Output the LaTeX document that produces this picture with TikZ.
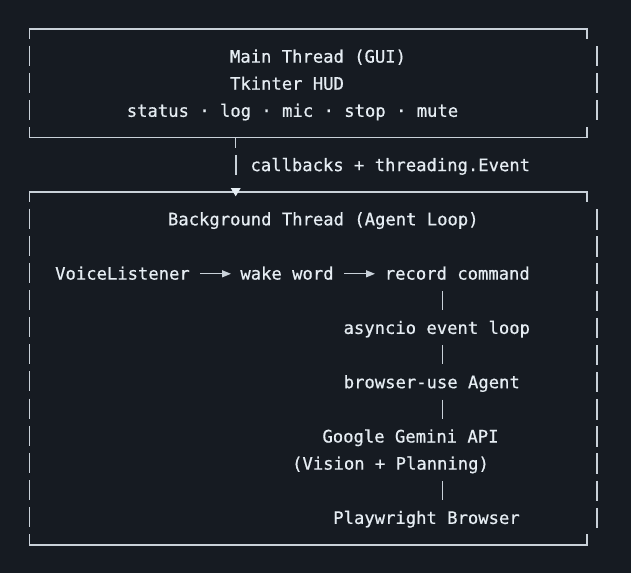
\documentclass[tikz,border=0pt]{standalone}
\usepackage{fontspec}
\newfontfamily\diagmono[FakeBold=0.6]{DejaVu Sans Mono}
\usetikzlibrary{arrows.meta}
\definecolor{bgc}{HTML}{161B22}
\definecolor{txt}{HTML}{E6EDF3}
\definecolor{lin}{HTML}{C9D1D9}
\begin{document}
\begin{tikzpicture}[x=1pt,y=-1pt,
  lbl/.style={anchor=base,inner sep=0pt,text=txt,font=\diagmono\fontsize{17.2}{20}\selectfont},
  hline/.style={draw=lin,line width=1.3pt},
  bar/.style={draw=lin,line width=1.6pt},
  pipe/.style={draw=lin,line width=1.5pt},
  arr/.style={draw=lin,line width=1.3pt,-{Triangle[length=9pt,width=7pt]}}]
\fill[bgc] (0,0) rectangle (631,573);
\useasboundingbox (0,0) rectangle (631,573);
% ---- top box (rows 0..4)
\draw[hline] (29.5,39) -- (29.5,29) -- (587,29) -- (587,39);
\draw[hline] (29.5,127.1) -- (29.5,137.6) -- (587,137.6) -- (587,127.1);
\foreach \y in {56.15,83.3,110.45}{
  \draw[bar] (29.5,\y-10.5) -- (29.5,\y+9.5);
  \draw[bar] (597,\y-10) -- (597,\y+10);
}
\node[lbl] (main) at (318,62.6) {Main Thread (GUI)};
\node[lbl] (tk) at (287,89.7) {Tkinter HUD};
\node[lbl] (hud) at (292.5,116.8) {status · log · mic · stop · mute};
% ---- connector between boxes
\coordinate (cs) at (235.7,137.6);
\coordinate (ce) at (235.7,148.3);
\coordinate (cb1) at (235.7,154.75);
\coordinate (cb2) at (235.7,174.75);
\draw[pipe] (cs) -- (ce);
\draw[bar] (cb1) -- (cb2);
\node[lbl] (cbk) at (390.3,171.1) {callbacks + threading.Event};
% ---- bottom box (rows 6..19)
\draw[hline] (29.5,201.9) -- (29.5,191.9) -- (587,191.9) -- (587,201.9);
\draw[hline] (29.5,534.4) -- (29.5,544.85) -- (587,544.85) -- (587,534.4);
\fill[txt] (230.7,188) -- (240.7,188) -- (235.7,196.3) -- cycle;
\foreach \y in {219.05,246.2,273.35,300.5,327.65,354.8,381.95,409.1,436.25,463.4,490.55,517.7}{
  \draw[bar] (29.5,\y-10.5) -- (29.5,\y+9.5);
  \draw[bar] (597,\y-10) -- (597,\y+10.5);
}
\node[lbl] (bg) at (323.3,225.3) {Background Thread (Agent Loop)};
\node[lbl] (vl) at (122.5,279.6) {VoiceListener};
\node[lbl] (ww) at (287,279.6) {wake word};
\node[lbl] (rec) at (457.3,279.6) {record command};
\node[lbl] (aio) at (436.8,333.9) {asyncio event loop};
\node[lbl] (agent) at (431.8,388.2) {browser-use Agent};
\node[lbl] (gem) at (410.5,442.5) {Google Gemini API};
\node[lbl] (vis) at (390.5,469.6) {(Vision + Planning)};
\node[lbl] (pw) at (426.5,523.9) {Playwright Browser};
% arrows in the listener row
\coordinate (a1s) at (200,273.8);
\coordinate (a1e) at (231,273.8);
\coordinate (a2s) at (344,273.8);
\coordinate (a2e) at (375,273.8);
\draw[arr] (a1s) -- (a1e);
\draw[arr] (a2s) -- (a2e);
% pipes down the flow
\foreach \y/\n in {300.5/p1,354.8/p2,409.1/p3,490.55/p4}{
  \coordinate (\n a) at (442.5,\y-9.5);
  \coordinate (\n b) at (442.5,\y+9.5);
  \draw[pipe] (\n a) -- (\n b);
}
\end{tikzpicture}
\end{document}
